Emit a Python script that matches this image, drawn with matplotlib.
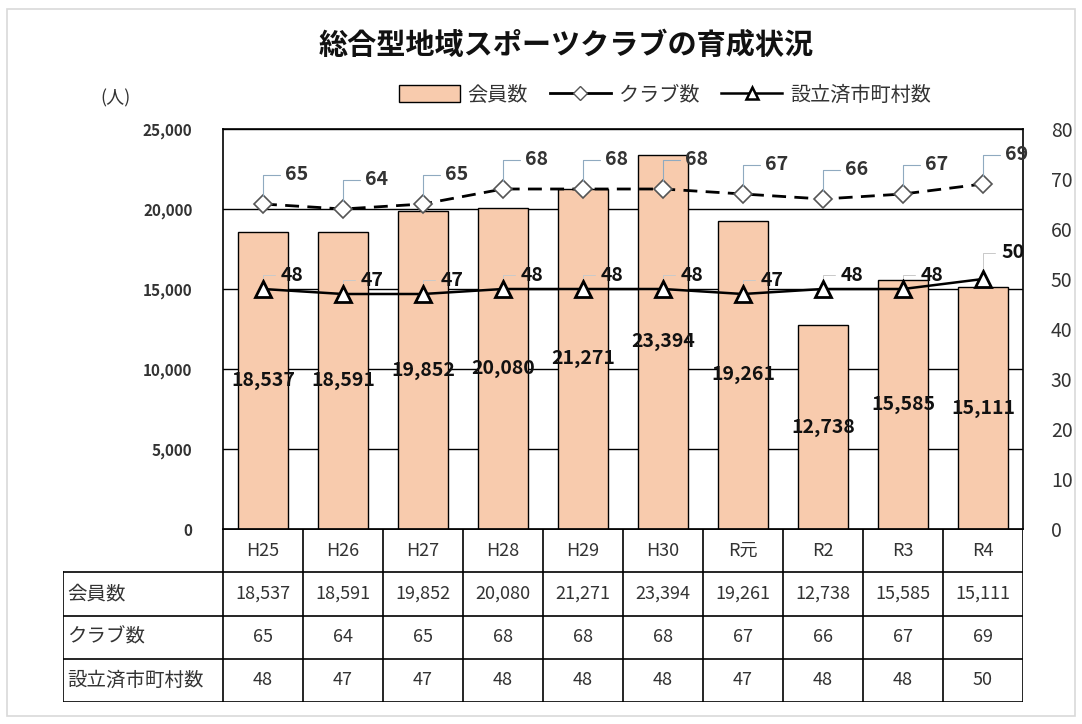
import numpy as np
import matplotlib
matplotlib.use("Agg")
import matplotlib.pyplot as plt
from matplotlib.patches import Patch, Rectangle
from matplotlib.lines import Line2D
from matplotlib.ticker import FuncFormatter

plt.rcParams['font.family'] = ['Noto Sans CJK JP', 'DejaVu Sans']

# データ
years = ["H25", "H26", "H27", "H28", "H29", "H30", "R元", "R2", "R3", "R4"]
members = [18537, 18591, 19852, 20080, 21271, 23394, 19261, 12738, 15585, 15111]
clubs = [65, 64, 65, 68, 68, 68, 67, 66, 67, 69]
towns = [48, 47, 47, 48, 48, 48, 47, 48, 48, 50]
row_names = ["会員数", "クラブ数", "設立済市町村数"]

bar_color = "#F8CBAD"
text_color = "#333333"
leader_color = "#8FAAC0"

W, H = 1082, 724
fig = plt.figure(figsize=(W / 100, H / 100), dpi=100)

# 外枠
fig.patches.append(Rectangle((7 / W, 1 - 716 / H), (1075 - 7) / W, (716 - 9) / H,
                             transform=fig.transFigure, fill=False,
                             edgecolor="#D9D9D9", lw=1.2))

x0, x1 = 223, 1023
y_top, y_bot = 129, 529
ax = fig.add_axes([x0 / W, 1 - y_bot / H, (x1 - x0) / W, (y_bot - y_top) / H])
x = np.arange(len(years))

ax.bar(x, members, width=0.62, color=bar_color, edgecolor="black", lw=1.0, zorder=2)
ax.set_xlim(-0.5, len(years) - 0.5)
ax.set_ylim(0, 25000)
ax.set_yticks(np.arange(0, 25001, 5000))
ax.yaxis.set_major_formatter(FuncFormatter(lambda v, p: f"{int(v):,}"))
ax.grid(axis="y", color="black", lw=1.0, zorder=0)
ax.set_xticks([])
ax.tick_params(axis="y", length=0, pad=22, labelsize=11, labelcolor=text_color)
for lab in ax.get_yticklabels():
    lab.set_fontweight("bold")
for s in ax.spines.values():
    s.set_linewidth(1.2)

for i, v in enumerate(members):
    ax.text(i, v / 2, f"{v:,}", ha="center", va="center", fontsize=14,
            fontweight="bold", color="#111111", zorder=5)

ax2 = ax.twinx()
ax2.set_ylim(0, 80)
ax2.set_yticks(np.arange(0, 81, 10))
ax2.tick_params(axis="y", length=0, pad=20, labelsize=14, labelcolor=text_color)
for s in ax2.spines.values():
    s.set_visible(False)

ax2.plot(x, clubs, color="black", lw=2.0, ls=(0, (5, 3)), marker="D", ms=9,
         mfc="white", mec="#555555", mew=1.2, zorder=4)
ax2.plot(x, towns, color="black", lw=1.8, marker="^", ms=12,
         mfc="white", mec="black", mew=2.0, zorder=4)

for i, v in enumerate(clubs):
    ax2.annotate(str(v), xy=(i, v), xytext=(16, 21), textcoords="offset points",
                 ha="left", va="center", fontsize=14, fontweight="bold", color=text_color,
                 arrowprops=dict(arrowstyle="-", color=leader_color, lw=0.8,
                                 connectionstyle="angle,angleA=0,angleB=90,rad=0",
                                 relpos=(0, 0.5), shrinkA=2, shrinkB=6), zorder=6)

for i, v in enumerate(towns):
    dy = 19 if i == len(towns) - 1 else 10
    ax2.annotate(str(v), xy=(i, v), xytext=(13, dy), textcoords="offset points",
                 ha="left", va="center", fontsize=14, fontweight="bold", color="#111111",
                 arrowprops=dict(arrowstyle="-", color="#C9C9C9", lw=0.7,
                                 connectionstyle="angle,angleA=0,angleB=90,rad=0",
                                 relpos=(0, 0.5), shrinkA=2, shrinkB=8), zorder=6)

# タイトル・凡例
fig.text(566 / W, 1 - 45 / H, "総合型地域スポーツクラブの育成状況", ha="center", va="center",
         fontsize=21, fontweight="bold", color="#111111")
fig.text(115 / W, 1 - 98 / H, "(人)", ha="center", va="center", fontsize=13, color=text_color)

handles = [
    Patch(facecolor=bar_color, edgecolor="black", lw=1.0),
    Line2D([], [], color="black", lw=2.0, marker="D", ms=7, mfc="white", mec="#555555"),
    Line2D([], [], color="black", lw=1.8, marker="^", ms=9, mfc="white", mec="black", mew=1.8),
]
fig.legend(handles, row_names, loc="center", bbox_to_anchor=(665 / W, 1 - 95 / H),
           ncol=3, frameon=False, fontsize=14.5, handlelength=3.0, handleheight=0.9,
           columnspacing=1.1, handletextpad=0.4, labelcolor=text_color)

# データテーブル
t_left, t_bot = 63, 702
axt = fig.add_axes([t_left / W, 1 - t_bot / H, (x1 - t_left) / W, (t_bot - y_bot) / H])
axt.set_xlim(-2.5, len(years) - 0.5)
axt.set_ylim(0, 4)
axt.axis("off")
n = len(years)
lc = dict(color="black", lw=1.2)
axt.plot([-0.5, n - 0.5], [4, 4], **lc)
for k in range(4):
    axt.plot([-2.5, n - 0.5], [k, k], **lc)
for j in range(n + 1):
    axt.plot([j - 0.5, j - 0.5], [0, 4], **lc)
axt.plot([-2.5, -2.5], [0, 3], **lc)

for j, yr in enumerate(years):
    axt.text(j, 3.5, yr, ha="center", va="center", fontsize=13, color=text_color)
rows = [[f"{v:,}" for v in members], [str(v) for v in clubs], [str(v) for v in towns]]
for r, (name, vals) in enumerate(zip(row_names, rows)):
    yc = 2.5 - r
    axt.text(-2.45, yc, name, ha="left", va="center", fontsize=14, color=text_color)
    for j, s in enumerate(vals):
        axt.text(j, yc, s, ha="center", va="center", fontsize=13, color=text_color)

fig.savefig("out.png", dpi=100)
